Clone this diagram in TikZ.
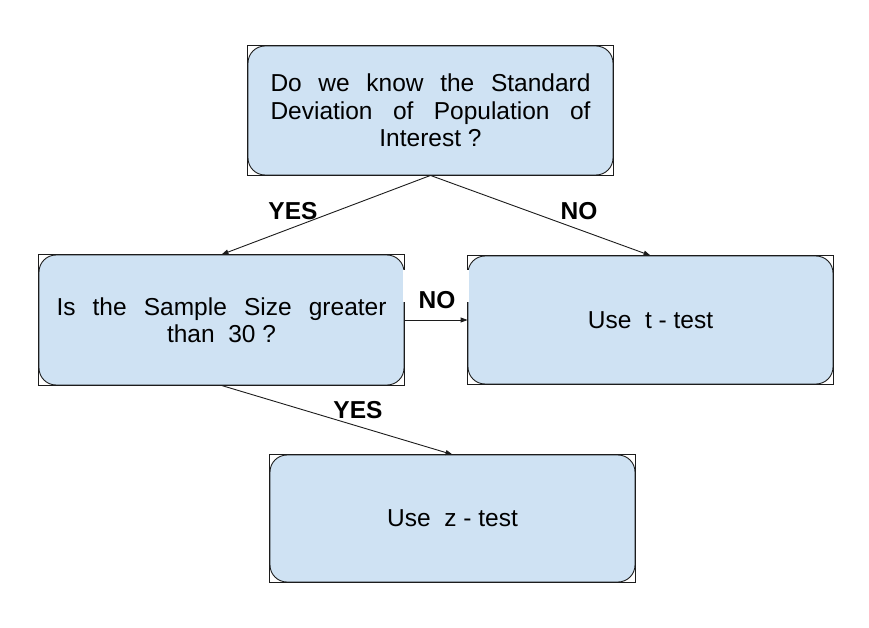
\documentclass[tikz,border=0pt]{standalone}
\usepackage{fontspec}
\setmainfont{Liberation Sans}
\usetikzlibrary{arrows.meta}
\definecolor{boxfill}{HTML}{CFE2F3}
\definecolor{ink}{HTML}{1C1C1C}
\begin{document}
\begin{tikzpicture}[x=1pt,y=-1pt,
  flowbox/.style={draw=ink, line width=0.9pt, fill=boxfill, rounded corners=17pt,
    minimum width=365pt, inner sep=0pt, align=center,
    font=\fontsize{24.5}{27.5}\selectfont},
  outline/.style={draw=ink, line width=0.9pt},
  arr/.style={draw=ink, line width=0.9pt, -{Triangle[length=7pt,width=5pt]}},
  lbl/.style={inner sep=0pt, font=\fontsize{24.5}{27.5}\selectfont\bfseries}]
\useasboundingbox (0,0) rectangle (869,628);
\fill[white] (0,0) rectangle (869,628);
% boxes
\node[flowbox, minimum height=129pt] (top) at (430.5,110.5)
  {\makebox[320pt][s]{Do we know the Standard}\\
   \makebox[320pt][s]{Deviation of Population of}\\
   Interest ?};
\node[flowbox, minimum height=130pt] (left) at (221.5,320)
  {\makebox[330pt][s]{Is the Sample Size greater}\\
   than\ \ 30 ?};
\node[flowbox, minimum height=128pt] (right) at (650.5,320) {Use\ \ t - test};
\node[flowbox, minimum height=127pt] (bottom) at (452.5,518.5) {Use\ \ z - test};
% square outlines
\foreach \n in {top,left,right,bottom}
  \draw[outline] (\n.north west) rectangle (\n.south east);
% connectors
\draw[arr] (top.south) -- (left.north);
\draw[arr] (top.south) -- (right.north);
\draw[arr] (left.east) -- (right.west);
\draw[arr] (left.south) -- (bottom.north);
% white patch behind middle label
\fill[white] (403.4,270) rectangle (468.6,302);
% labels
\node[lbl] (yes1) at (293,211) {YES};
\node[lbl] (no1) at (579,211) {NO};
\node[lbl] (no2) at (437,300) {NO};
\node[lbl] (yes2) at (358,410) {YES};
\end{tikzpicture}
\end{document}
